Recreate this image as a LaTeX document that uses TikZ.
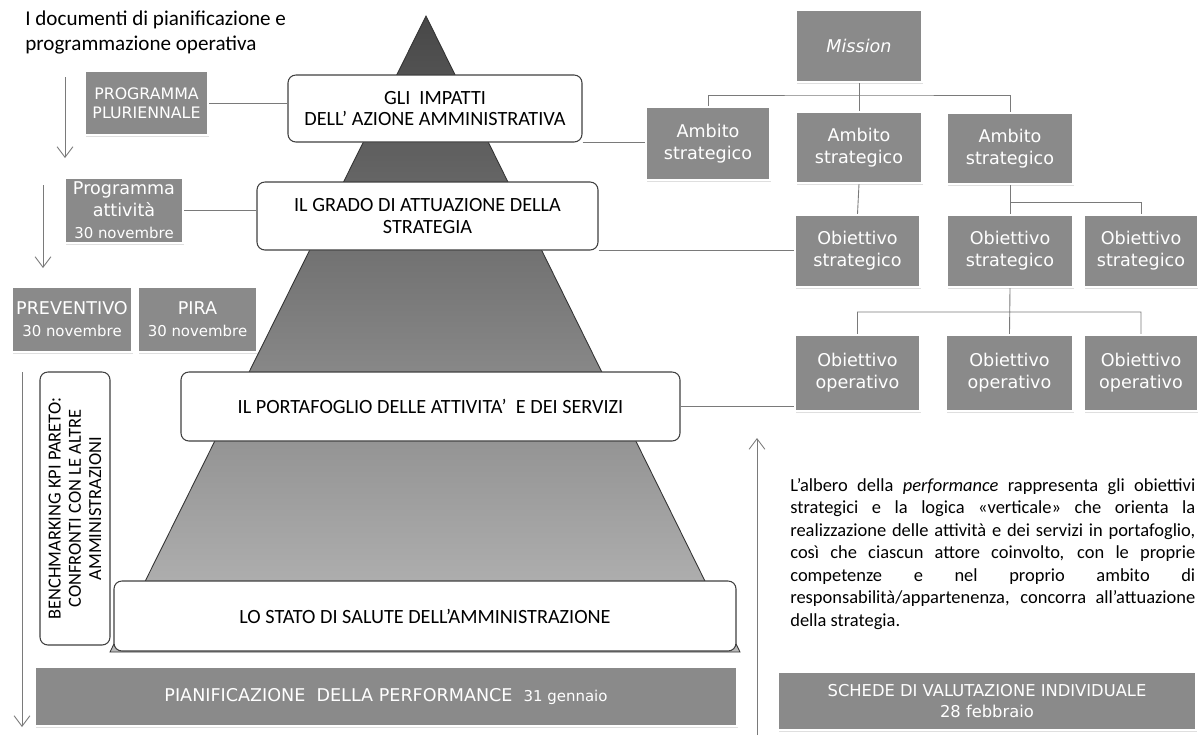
\documentclass[tikz,border=0pt]{standalone}
\usepackage{fontspec}
\setmainfont{Carlito}
\newfontfamily\boxfont{DejaVu Sans}
\usetikzlibrary{arrows.meta,shadows}

\definecolor{boxgray}{HTML}{8A8A8A}
\definecolor{linegray}{HTML}{7A7A7A}
\newcommand{\datefont}{\fontsize{8.5}{10.5}\selectfont}

\begin{document}
\begin{tikzpicture}[
    x=0.02cm, y=-0.02cm,
    boxsize/.style 2 args={minimum width=#1*0.02cm, minimum height=#2*0.02cm},
    graybox/.style={rectangle, fill=boxgray, draw=white, line width=1.2pt, text=white, align=center, inner sep=1pt,
        font=\boxfont\fontsize{10}{12.5}\selectfont, drop shadow={opacity=0.25, shadow xshift=0.8pt, shadow yshift=-1.2pt}},
    whitebox/.style={rectangle, rounded corners=4.5pt, draw=black!75, line width=0.6pt, fill=white, align=center,
        font=\fontsize{11.5}{12.5}\selectfont},
    link/.style={draw=linegray, line width=0.5pt},
    arrow/.style={-{Straight Barb[length=6pt,width=9pt]}, draw=linegray, line width=0.5pt}
]
    \useasboundingbox (0,0) rectangle (1198,738);

    % titolo
    \node[anchor=north west, inner sep=0pt, align=left, font=\fontsize{12}{14}\selectfont] (titolo) at (25,11)
        {I documenti di pianificazione e\\programmazione operativa};

    % piramide
    \coordinate (apex) at (426,16);
    \coordinate (baseL) at (110,652);
    \coordinate (baseR) at (740,652);
    \shadedraw[top color=black!72, bottom color=black!27, draw=black!80, line width=0.5pt]
        (apex) -- (baseR) -- (baseL) -- cycle;

    \node[whitebox, boxsize={294}{67}] (gli) at (435,108.5) {GLI\ \ IMPATTI\\DELL' AZIONE AMMINISTRATIVA};
    \node[whitebox, boxsize={341}{68}] (grado) at (427.5,216) {IL GRADO DI ATTUAZIONE DELLA\\STRATEGIA};
    \node[whitebox, boxsize={499}{69}] (port) at (430.5,406.5) {IL PORTAFOGLIO DELLE ATTIVITA'\ \ E DEI SERVIZI};
    \node[whitebox, boxsize={622}{70}] (stato) at (425,616) {LO STATO DI SALUTE DELL'AMMINISTRAZIONE};

    % documenti a sinistra
    \node[graybox, boxsize={123}{64}, font=\boxfont\fontsize{9}{11}\selectfont] (plur) at (146.5,103) {PROGRAMMA\\PLURIENNALE};
    \node[graybox, boxsize={118}{65}] (prog) at (124,210.5) {Programma\\attività\\{\datefont 30 novembre}};
    \node[graybox, boxsize={120}{65}] (prev) at (72,319.5) {PREVENTIVO\\{\datefont 30 novembre}};
    \node[graybox, boxsize={119}{65}] (pira) at (197.5,319.5) {PIRA\\{\datefont 30 novembre}};
    \node[whitebox, rotate=90, boxsize={273}{70}, font=\fontsize{10.5}{11.5}\selectfont] (bench) at (75,508.5)
        {BENCHMARKING KPI PARETO:\\CONFRONTI CON LE ALTRE\\AMMINISTRAZIONI};
    \node[graybox, boxsize={702}{59}] (pianif) at (386,696.5)
        {PIANIFICAZIONE\ \ DELLA PERFORMANCE\ \ {\datefont 31 gennaio}};

    \coordinate (a1s) at (65,77);   \coordinate (a1e) at (65,158);
    \coordinate (a2s) at (43,185);  \coordinate (a2e) at (43,268);
    \coordinate (a3s) at (22,372);  \coordinate (a3e) at (22,727);
    \draw[arrow] (a1s) -- (a1e);
    \draw[arrow] (a2s) -- (a2e);
    \draw[arrow] (a3s) -- (a3e);

    \draw[link] (plur.east) -- (plur.east -| gli.west);
    \draw[link] (prog.east) -- (prog.east -| grado.west);

    % albero della performance
    \node[graybox, boxsize={126}{72}, font=\boxfont\itshape\fontsize{10}{12.5}\selectfont] (mission) at (859,46) {Mission};
    \node[graybox, boxsize={124}{73}] (amb1) at (708,143.5) {Ambito\\strategico};
    \node[graybox, boxsize={126}{71}] (amb2) at (859,147.5) {Ambito\\strategico};
    \node[graybox, boxsize={126}{71}] (amb3) at (1010,148.5) {Ambito\\strategico};
    \node[graybox, boxsize={125}{72}] (strat1) at (857.5,251) {Obiettivo\\strategico};
    \node[graybox, boxsize={126}{72}] (strat2) at (1010,251) {Obiettivo\\strategico};
    \node[graybox, boxsize={114}{72}] (strat3) at (1141,251) {Obiettivo\\strategico};
    \node[graybox, boxsize={125}{76}] (op1) at (857.5,373) {Obiettivo\\operativo};
    \node[graybox, boxsize={127}{76}] (op2) at (1009.5,373) {Obiettivo\\operativo};
    \node[graybox, boxsize={114}{76}] (op3) at (1141,373) {Obiettivo\\operativo};

    \coordinate (mbus) at (859,95);
    \coordinate (abus) at (1010,202);
    \coordinate (sbus) at (1010,312);
    \draw[link] (mission.south) -- (mbus) (amb1.north) |- (mbus) -| (amb3.north) (mbus) -- (amb2.north);
    \draw[link] (amb2.south) -- (strat1.north);
    \draw[link] (amb3.south) -- (strat2.north) (abus) -| (strat3.north);
    \draw[link] (strat2.south) -- (op2.north) (op1.north) |- (sbus) -| (op3.north);

    \draw[link] (gli.south east) -- (gli.south east -| amb1.west);
    \draw[link] (grado.south east) -- (grado.south east -| strat1.west);
    \draw[link] (port.east) -- (port.east -| op1.west);

    % testo e schede
    \coordinate (upS) at (757,735);
    \coordinate (upE) at (757,438);
    \draw[arrow] (upS) -- (upE);

    \node[anchor=north west, inner sep=0pt, text width=8.1cm, align=justify, font=\fontsize{10.5}{12.8}\selectfont] (albero) at (790,478)
        {L'albero della \emph{performance} rappresenta gli obiettivi\linebreak
         strategici e la logica «verticale» che orienta la\linebreak
         realizzazione delle attività e dei servizi in portafoglio,\linebreak
         così che ciascun attore coinvolto, con le proprie\linebreak
         competenze e nel proprio ambito di\linebreak
         responsabilità/appartenenza, concorra all'attuazione\linebreak
         della strategia.};

    \node[graybox, boxsize={418}{58}, font=\boxfont\fontsize{9.3}{12}\selectfont] (schede) at (987,701)
        {SCHEDE DI VALUTAZIONE INDIVIDUALE\\28 febbraio};
\end{tikzpicture}
\end{document}
